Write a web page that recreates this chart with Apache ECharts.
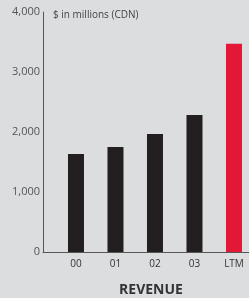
<!DOCTYPE html>
<html>
<head>
<meta charset="utf-8">
<script src="https://cdn.jsdelivr.net/npm/echarts@6/dist/echarts.min.js"></script>
<style>
html,body{margin:0;padding:0;background:#dcdddf;}
#c{width:249px;height:298px;}
</style>
</head>
<body>
<div id="c"></div>
<script>
const categories = ['00', '01', '02', '03', 'LTM'];
const revenue = [1633, 1750, 1967, 2283, 3470];
const yTicks = [0, 1000, 2000, 3000, 4000];
const barColors = ['#231f20', '#231f20', '#231f20', '#231f20', '#e31837'];

const chart = echarts.init(document.getElementById('c'), null, {renderer: 'canvas'});
const idx = categories.map((_, i) => i);
chart.setOption({
  backgroundColor: '#dcdddf',
  animation: false,
  textStyle: {fontFamily: 'Open Sans'},
  title: [{
    text: 'REVENUE',
    left: 146, top: 278, textAlign: 'center',
    textStyle: {fontSize: 14, fontWeight: 'bold', color: '#333', fontFamily: 'Open Sans'}
  }, {
    text: '$ in millions (CDN)',
    left: 48, top: 5,
    textStyle: {fontSize: 10, fontWeight: 'normal', color: '#444', fontFamily: 'Open Sans'}
  }],
  grid: {left: 43, right: 0, top: 12, bottom: 46, containLabel: false},
  xAxis: {
    type: 'value',
    min: -0.835, max: 4.38,
    axisLine: {show: true, onZero: false, lineStyle: {color: '#555', width: 1}},
    axisTick: {show: false},
    splitLine: {show: false},
    axisLabel: {
      customValues: idx,
      formatter: v => categories[Math.round(v)] || '',
      color: '#333', fontSize: 10, margin: 7, fontFamily: 'Open Sans'
    }
  },
  yAxis: {
    type: 'value',
    min: 0, max: 4000, interval: 1000,
    axisLine: {show: true, onZero: false, lineStyle: {color: '#555', width: 1}},
    axisTick: {show: false},
    splitLine: {show: false},
    axisLabel: {
      customValues: yTicks,
      formatter: v => v.toLocaleString('en-US'),
      color: '#555', fontSize: 11, margin: 3, fontFamily: 'Open Sans'
    }
  },
  series: [{
    type: 'bar',
    barWidth: 16,
    data: revenue.map((v, i) => ({value: [i, v], itemStyle: {color: barColors[i]}}))
  }]
});
</script>
</body>
</html>
